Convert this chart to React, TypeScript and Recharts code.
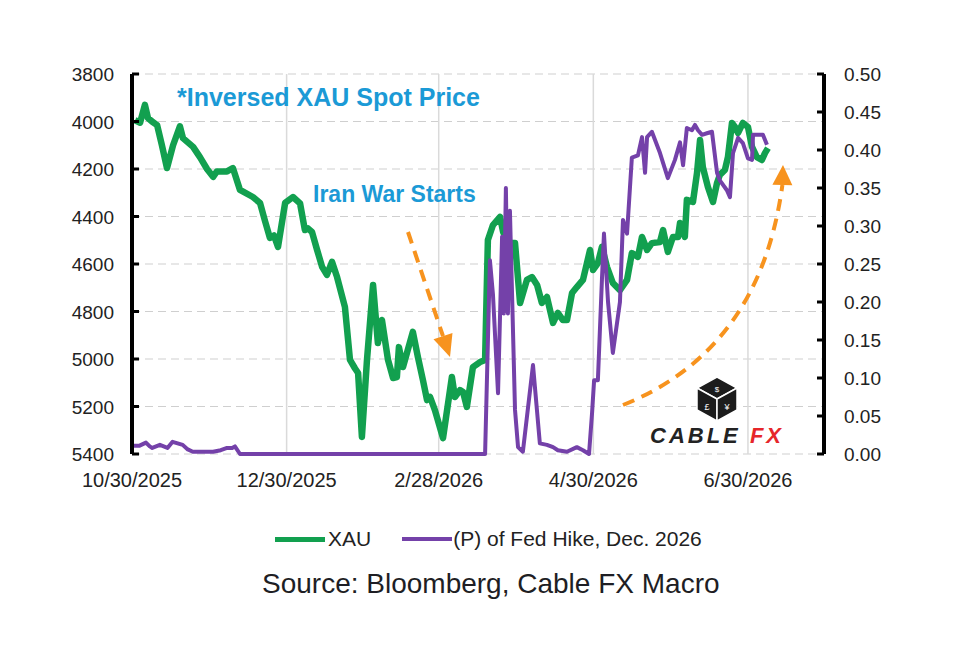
import React from "react";
import {
  ComposedChart,
  Line,
  XAxis,
  YAxis,
  CartesianGrid,
  ReferenceLine,
} from "recharts";

// x positions are days since 10/30/2025
const dateTicks = [0, 61, 121, 182, 243];
const dateLabels = ["10/30/2025", "12/30/2025", "2/28/2026", "4/30/2026", "6/30/2026"];
const priceTicks = [3800, 4000, 4200, 4400, 4600, 4800, 5000, 5200, 5400];
const probTicks = [0, 0.05, 0.1, 0.15, 0.2, 0.25, 0.3, 0.35, 0.4, 0.45, 0.5];

const xauDays = [
  1.2, 3.2, 5.1, 6.3, 7.9, 9.9, 11.8, 13.8, 16.2, 18.9, 20.1, 24.1, 26.8, 29.6, 32.0, 33.5,
  37.5, 39.8, 42.6, 47.7, 50.5, 52.5, 54.4, 56.0, 57.6, 60.4, 63.5, 66.3, 68.2, 69.4, 71.0,
  73.0, 75.0, 76.9, 78.9, 80.9, 84.0, 86.0, 88.0, 89.2, 90.7, 92.7, 95.1, 97.0, 98.6, 101.0,
  103.0, 104.5, 105.3, 106.9, 110.8, 112.8, 114.8, 116.4, 117.6, 119.5, 122.7, 126.2, 127.4,
  129.4, 130.6, 132.1, 134.5, 137.3, 139.3, 140.4, 142.4, 145.2, 146.4, 148.3, 151.1, 153.1,
  155.8, 157.8, 159.8, 161.7, 163.7, 166.1, 168.0, 170.0, 171.6, 173.6, 175.5, 177.9, 180.7,
  181.9, 183.8, 185.4, 187.4, 189.7, 192.5, 195.3, 197.2, 199.6, 201.2, 203.2, 205.1, 208.3,
  209.5, 211.4, 213.4, 215.4, 216.2, 218.1, 218.9, 221.3, 222.9, 224.1, 225.2, 227.2, 229.2,
  230.8, 231.9, 233.9, 235.1, 236.7, 237.9, 239.1, 241.0, 243.0, 244.6, 246.5, 248.5, 249.7,
  250.9,
];
const xauPrice = [
  3995, 4005, 3930, 3985, 4000, 4015, 4100, 4196, 4100, 4020, 4070, 4107, 4150, 4200, 4233, 4210,
  4210, 4196, 4288, 4318, 4343, 4420, 4490, 4480, 4528, 4343, 4318, 4345, 4457, 4450, 4465,
  4540, 4612, 4646, 4591, 4655, 4781, 5004, 5040, 5059, 5328, 5004, 4688, 4933, 4836, 5004,
  5080, 5076, 4950, 5034, 4886, 4992, 5090, 5173, 5160, 5215, 5333, 5076, 5160,
  5131, 5139, 5202, 5034, 5013, 5004, 4499, 4436, 4402, 4465, 4512, 4512, 4764,
  4667, 4655, 4688, 4764, 4739, 4848, 4806, 4836, 4836, 4722, 4697, 4667, 4541,
  4625, 4596, 4528, 4613, 4680, 4710, 4667, 4554, 4570, 4486, 4541, 4512, 4507,
  4457, 4549, 4486, 4486, 4427, 4486, 4330, 4339, 4217, 4078, 4192, 4276, 4339,
  4259, 4225, 4204, 4150, 4006, 4023, 4048, 4006, 4023, 4107, 4150, 4162, 4133,
  4112,
];

const hikeDays = [
  0, 3, 5.5, 7, 8, 11, 14, 16, 18, 20, 22, 24, 29, 32, 35, 37.5, 39.5, 40.6, 42.6, 139.3,
  141.2, 142.4, 144.4, 146.0, 146.7, 147.5, 148.3, 149.1, 151.1, 152.3, 154.2, 158.2, 160.9,
  163.7, 166.1, 168.0, 171.6, 175.5, 177.9, 180.3, 181.5, 182.3, 183.8, 185.4, 186.2, 187.8,
  189.7, 192.5, 193.7, 195.3, 197.2, 199.6, 201.2, 202.4, 203.2, 205.1, 208.3, 211.4, 214.2,
  216.2, 217.4, 218.9, 220.9, 222.1, 223.3, 224.9, 226.8, 228.8, 230.8, 231.9, 234.7, 235.9,
  237.1, 239.1, 241.0, 243.0, 244.6, 245.0, 248.9, 250.5,
];
const hikeProb = [
  0.011, 0.011, 0.015, 0.01, 0.008, 0.012, 0.008, 0.016, 0.014, 0.012, 0.006, 0.003, 0.003, 0.003,
  0.005, 0.008, 0.008, 0.01, 0, 0,
  0.255, 0.21, 0.08, 0.286, 0.185, 0.35, 0.185, 0.32, 0.058, 0.009, 0.003, 0.117, 0.014,
  0.012, 0.009, 0.005, 0.003, 0.009, 0.005, 0, 0.054, 0.097, 0.097, 0.23, 0.29, 0.2,
  0.133, 0.2, 0.308, 0.29, 0.39, 0.393, 0.417, 0.37, 0.417, 0.424, 0.396, 0.363, 0.387,
  0.41, 0.38, 0.429, 0.426, 0.433, 0.426, 0.42, 0.422, 0.424, 0.37, 0.36, 0.347, 0.338,
  0.396, 0.416, 0.409, 0.389, 0.387, 0.42, 0.42, 0.407,
];

const xauData = xauDays.map((d, i) => ({ d, v: xauPrice[i] }));
const hikeData = hikeDays.map((d, i) => ({ d, p: hikeProb[i] }));

const GREEN = "#12a04f";
const PURPLE = "#7441a9";
const BLUE = "#1b9ad6";
const ORANGE = "#f7931e";
const FONT = "'Liberation Sans', Arial, sans-serif";

const LeftTick = (props: any) => {
  const { x, y, payload } = props;
  return (
    <g>
      <line x1={x + 18} x2={x + 25} y1={y} y2={y} stroke="#000" strokeWidth={3} />
      <text x={x} y={y} dy={7} textAnchor="end" fontSize={19} fill="#222" fontFamily={FONT}>
        {payload.value}
      </text>
    </g>
  );
};

const RightTick = (props: any) => {
  const { x, y, payload } = props;
  return (
    <g>
      <line x1={x - 20} x2={x - 27} y1={y} y2={y} stroke="#000" strokeWidth={3} />
      <text x={x} y={y} dy={7} textAnchor="start" fontSize={19} fill="#222" fontFamily={FONT}>
        {payload.value.toFixed(2)}
      </text>
    </g>
  );
};

const DateTick = (props: any) => {
  const { x, y, payload } = props;
  const i = dateTicks.indexOf(payload.value);
  return (
    <text x={x} y={y + 33} textAnchor="middle" fontSize={20} fill="#222" fontFamily={FONT}>
      {dateLabels[i]}
    </text>
  );
};

function arrowHead(fx: number, fy: number, tx: number, ty: number, len: number, half: number) {
  const dx = tx - fx;
  const dy = ty - fy;
  const l = Math.sqrt(dx * dx + dy * dy);
  const ux = dx / l;
  const uy = dy / l;
  const bx = tx - ux * len;
  const by = ty - uy * len;
  return {
    base: [bx, by],
    points: `${tx},${ty} ${bx - uy * half},${by + ux * half} ${bx + uy * half},${by - ux * half}`,
  };
}

export default function App() {
  const a1 = arrowHead(400, 224, 442, 349, 22, 10);
  const a2 = arrowHead(774, 190, 775, 157, 20, 10);
  return (
    <div style={{ position: "relative", width: 964, height: 634, fontFamily: FONT, background: "#fff" }}>
      <ComposedChart width={964} height={500} margin={{ top: 66, right: 88, bottom: 24, left: 64 }}>
        <CartesianGrid yAxisId="left" vertical={false} stroke="#cfcfcf" strokeDasharray="8 5" />
        {dateTicks.map((d) => (
          <ReferenceLine key={d} x={d} yAxisId="left" stroke="#dadada" strokeWidth={1.5} />
        ))}
        <XAxis
          dataKey="d"
          type="number"
          domain={[0, 273]}
          ticks={dateTicks}
          axisLine={false}
          tickLine={false}
          tickSize={0}
          tickMargin={0}
          height={30}
          tick={<DateTick />}
          allowDuplicatedCategory={false}
        />
        <YAxis
          yAxisId="left"
          orientation="left"
          reversed
          domain={[3800, 5400]}
          ticks={priceTicks}
          width={60}
          axisLine={{ stroke: "#000", strokeWidth: 4 }}
          tickLine={false}
          tickSize={0}
          tickMargin={18}
          tick={<LeftTick />}
        />
        <YAxis
          yAxisId="right"
          orientation="right"
          domain={[0, 0.5]}
          ticks={probTicks}
          width={60}
          axisLine={{ stroke: "#000", strokeWidth: 4 }}
          tickLine={false}
          tickSize={0}
          tickMargin={20}
          tick={<RightTick />}
        />
        <Line
          yAxisId="left"
          data={xauData}
          dataKey="v"
          type="linear"
          stroke={GREEN}
          strokeWidth={6.5}
          strokeLinejoin="round"
          dot={false}
          isAnimationActive={false}
        />
        <Line
          yAxisId="right"
          data={hikeData}
          dataKey="p"
          type="linear"
          stroke={PURPLE}
          strokeWidth={4}
          strokeLinejoin="round"
          dot={false}
          isAnimationActive={false}
        />
      </ComposedChart>

      <svg
        width={964}
        height={634}
        style={{ position: "absolute", left: 0, top: 0, pointerEvents: "none" }}
      >
        <text x={169} y={98} fontSize={25} fontWeight={700} fill={BLUE} fontFamily={FONT}>
          *Inversed XAU Spot Price
        </text>
        <text x={305} y={194} fontSize={23} fontWeight={700} fill={BLUE} fontFamily={FONT}>
          Iran War Starts
        </text>

        <line
          x1={400}
          y1={224}
          x2={a1.base[0]}
          y2={a1.base[1]}
          stroke={ORANGE}
          strokeWidth={4}
          strokeDasharray="12 8"
        />
        <polygon points={a1.points} fill={ORANGE} />
        <path
          d={`M615,397 Q752,342 ${a2.base[0]},${a2.base[1]}`}
          fill="none"
          stroke={ORANGE}
          strokeWidth={4}
          strokeDasharray="12 8"
        />
        <polygon points={a2.points} fill={ORANGE} />

        <g>
          <polygon points="709,369 729,380 709,391 689,380" fill="#1c1c1c" stroke="#fff" strokeWidth={1.5} />
          <polygon points="689,380 709,391 709,413 689,402" fill="#1c1c1c" stroke="#fff" strokeWidth={1.5} />
          <polygon points="709,391 729,380 729,402 709,413" fill="#1c1c1c" stroke="#fff" strokeWidth={1.5} />
          <text x={709} y={384} fontSize={8} fill="#fff" textAnchor="middle" fontFamily={FONT}>$</text>
          <text x={699} y={402} fontSize={9} fill="#fff" textAnchor="middle" fontFamily={FONT}>£</text>
          <text x={719} y={402} fontSize={9} fill="#fff" textAnchor="middle" fontFamily={FONT}>¥</text>
          <text x={642} y={435} fontSize={22} fontWeight={700} fontStyle="italic" letterSpacing={3} fontFamily={FONT}>
            <tspan fill="#232323">CABLE </tspan>
            <tspan fill="#e6262a">FX</tspan>
          </text>
        </g>
      </svg>

      <div style={{ position: "absolute", left: 267, top: 519, display: "flex", alignItems: "center", fontSize: 21, color: "#222" }}>
        <span style={{ display: "inline-block", width: 50, height: 5, background: GREEN, marginRight: 3 }} />
        <span>XAU</span>
        <span style={{ display: "inline-block", width: 50, height: 4, background: PURPLE, marginLeft: 31, marginRight: 1 }} />
        <span>(P) of Fed Hike, Dec. 2026</span>
      </div>
      <div style={{ position: "absolute", left: 254, top: 560, fontSize: 28, color: "#1e1e24" }}>
        Source: Bloomberg, Cable FX Macro
      </div>
    </div>
  );
}
